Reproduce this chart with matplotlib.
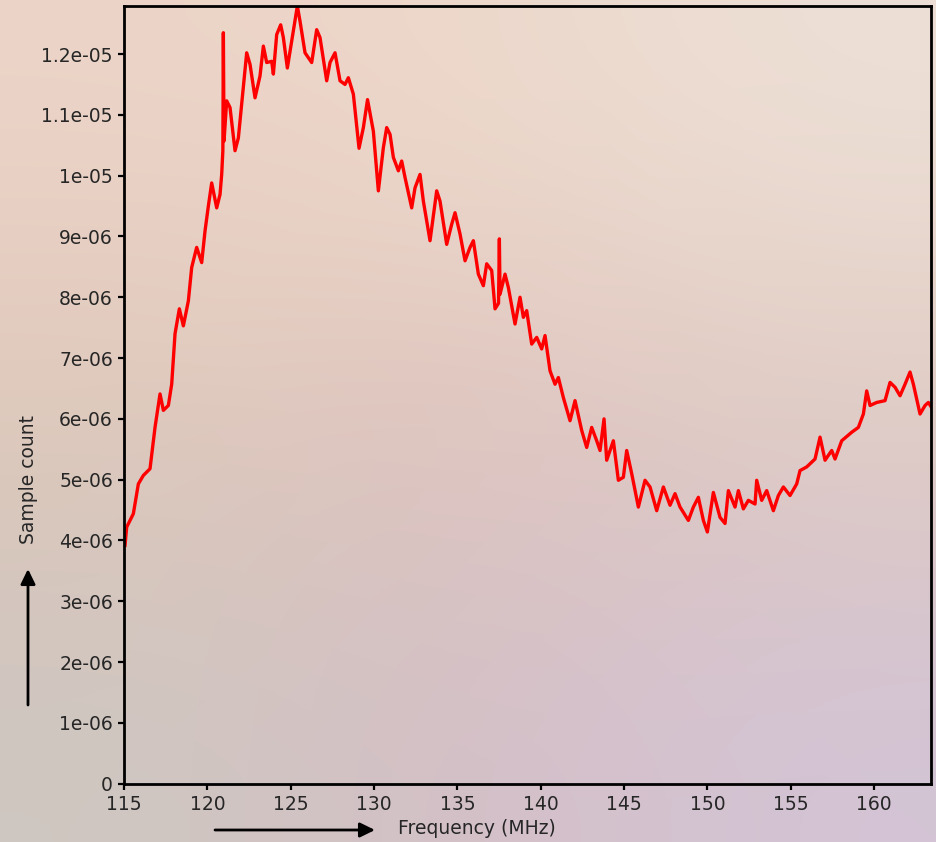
import numpy as np
import matplotlib
matplotlib.use("Agg")
import matplotlib.pyplot as plt
from matplotlib.ticker import FuncFormatter

# Frequency (MHz) and sample count (in units of 1e-6)
freq_mhz = [
    115.06, 115.16, 115.56, 115.86, 116.16, 116.56, 116.86, 117.16, 117.36, 117.66,
    117.86, 118.06, 118.32, 118.56, 118.86, 119.06, 119.36, 119.66, 119.86, 120.06,
    120.26, 120.56, 120.76, 120.86, 120.93, 120.96, 121.00, 121.16, 121.36, 121.66,
    121.86, 122.36, 122.56, 122.86, 123.16, 123.36, 123.56, 123.86, 123.96, 124.16,
    124.40, 124.56, 124.80, 125.06, 125.40, 125.56, 125.86, 126.26, 126.56, 126.76,
    127.16, 127.36, 127.66, 127.96, 128.26, 128.46, 128.76, 129.10, 129.36, 129.61,
    129.96, 130.26, 130.56, 130.76, 130.96, 131.16, 131.46, 131.66, 131.86, 132.26,
    132.46, 132.76, 132.96, 133.36, 133.76, 133.96, 134.36, 134.66, 134.86, 135.16,
    135.46, 135.76, 135.96, 136.26, 136.56, 136.76, 137.06, 137.26, 137.47, 137.52,
    137.56, 137.86, 138.06, 138.46, 138.76, 138.96, 139.16, 139.46, 139.76, 140.06,
    140.26, 140.56, 140.86, 141.06, 141.36, 141.76, 142.06, 142.46, 142.76, 143.06,
    143.36, 143.56, 143.80, 143.96, 144.36, 144.66, 144.96, 145.16, 145.46, 145.86,
    146.26, 146.56, 146.96, 147.36, 147.76, 148.06, 148.36, 148.86, 149.16, 149.46,
    149.76, 150.00, 150.36, 150.76, 151.06, 151.26, 151.66, 151.86, 152.16, 152.46,
    152.86, 152.96, 153.26, 153.56, 153.96, 154.26, 154.56, 154.96, 155.36, 155.56,
    155.96, 156.46, 156.76, 157.06, 157.46, 157.66, 158.06, 158.66, 159.06, 159.36,
    159.56, 159.76, 160.16, 160.66, 160.96, 161.26, 161.56, 161.86, 162.16, 162.36,
    162.76, 163.06, 163.26, 163.42,
]
sample_count_e6 = [
    3.92, 4.22, 4.44, 4.93, 5.07, 5.18, 5.86, 6.41, 6.14, 6.22,
    6.57, 7.40, 7.81, 7.53, 7.94, 8.49, 8.82, 8.57, 9.09, 9.50,
    9.88, 9.47, 9.69, 10.02, 10.41, 12.35, 10.57, 11.23, 11.12, 10.41,
    10.62, 12.02, 11.83, 11.28, 11.64, 12.13, 11.86, 11.88, 11.67, 12.32,
    12.48, 12.27, 11.77, 12.21, 12.79, 12.54, 12.02, 11.86, 12.40, 12.27,
    11.56, 11.86, 12.02, 11.56, 11.50, 11.61, 11.34, 10.45, 10.79, 11.25,
    10.73, 9.75, 10.46, 10.79, 10.68, 10.30, 10.08, 10.24, 9.97, 9.47,
    9.80, 10.02, 9.58, 8.93, 9.75, 9.58, 8.87, 9.20, 9.39, 9.04,
    8.60, 8.82, 8.93, 8.38, 8.19, 8.55, 8.44, 7.81, 7.90, 8.96,
    8.05, 8.38, 8.16, 7.56, 8.00, 7.67, 7.78, 7.23, 7.34, 7.15,
    7.37, 6.79, 6.57, 6.68, 6.35, 5.97, 6.30, 5.81, 5.53, 5.86,
    5.64, 5.48, 6.00, 5.32, 5.64, 4.99, 5.04, 5.48, 5.10, 4.55,
    4.99, 4.88, 4.49, 4.88, 4.58, 4.77, 4.55, 4.33, 4.55, 4.71,
    4.33, 4.14, 4.79, 4.38, 4.28, 4.82, 4.55, 4.82, 4.52, 4.66,
    4.60, 4.99, 4.66, 4.82, 4.49, 4.74, 4.88, 4.74, 4.93, 5.15,
    5.21, 5.34, 5.70, 5.32, 5.48, 5.34, 5.64, 5.78, 5.86, 6.08,
    6.46, 6.22, 6.27, 6.30, 6.60, 6.52, 6.38, 6.57, 6.77, 6.57,
    6.08, 6.22, 6.27, 6.20,
]
x_ticks = [115, 120, 125, 130, 135, 140, 145, 150, 155, 160]
y_ticks_e6 = [0, 1, 2, 3, 4, 5, 6, 7, 8, 9, 10, 11, 12]

# soft background gradient (top row first)
bg_colors = np.array([
    [[236, 213, 200], [238, 216, 202], [237, 224, 215]],
    [[222, 199, 185], [223, 195, 190], [224, 202, 192]],
    [[206, 199, 193], [212, 190, 198], [211, 196, 214]],
]) / 255.0

fig = plt.figure(figsize=(9.36, 8.42), dpi=100)

bg = fig.add_axes([0, 0, 1, 1], zorder=0)
bg.imshow(bg_colors, aspect="auto", interpolation="bicubic", extent=[0, 1, 0, 1])
bg.axis("off")

ax = fig.add_axes([0.1325, 0.0692, 0.8622, 0.9237], zorder=1)
ax.patch.set_alpha(0)

y_vals = np.array(sample_count_e6) * 1e-6
ax.plot(freq_mhz, y_vals, color="#ff0000", lw=2.4)

ax.set_xlim(115, 163.42)
ax.set_ylim(0, max(y_vals))
ax.set_xticks(x_ticks)
ax.set_yticks(np.array(y_ticks_e6) * 1e-6)
ax.yaxis.set_major_formatter(FuncFormatter(lambda v, p: "%g" % v))

for s in ax.spines.values():
    s.set_linewidth(2)
    s.set_color("black")
ax.tick_params(direction="out", length=4, width=1.6, pad=4,
               labelsize=13.5, labelcolor="#262626", color="black")

# axis labels with arrows, placed like the reference
fig.text(398 / 936, 1 - 829 / 842, "Frequency (MHz)", fontsize=13.5,
         color="#262626", ha="left", va="center")
fig.text(28 / 936, 1 - 480 / 842, "Sample count", fontsize=13.5,
         color="#262626", ha="center", va="center", rotation=90)

arrow = dict(arrowstyle="-|>,head_length=0.45,head_width=0.22", lw=2,
             color="black", mutation_scale=20, shrinkA=0, shrinkB=0)
fig.add_artist(plt.Annotation("", xy=(375 / 936, 1 - 830 / 842),
                              xytext=(215 / 936, 1 - 830 / 842),
                              xycoords="figure fraction", arrowprops=arrow))
fig.add_artist(plt.Annotation("", xy=(28 / 936, 1 - 569 / 842),
                              xytext=(28 / 936, 1 - 705 / 842),
                              xycoords="figure fraction", arrowprops=arrow))

fig.savefig("out.png", dpi=100)
